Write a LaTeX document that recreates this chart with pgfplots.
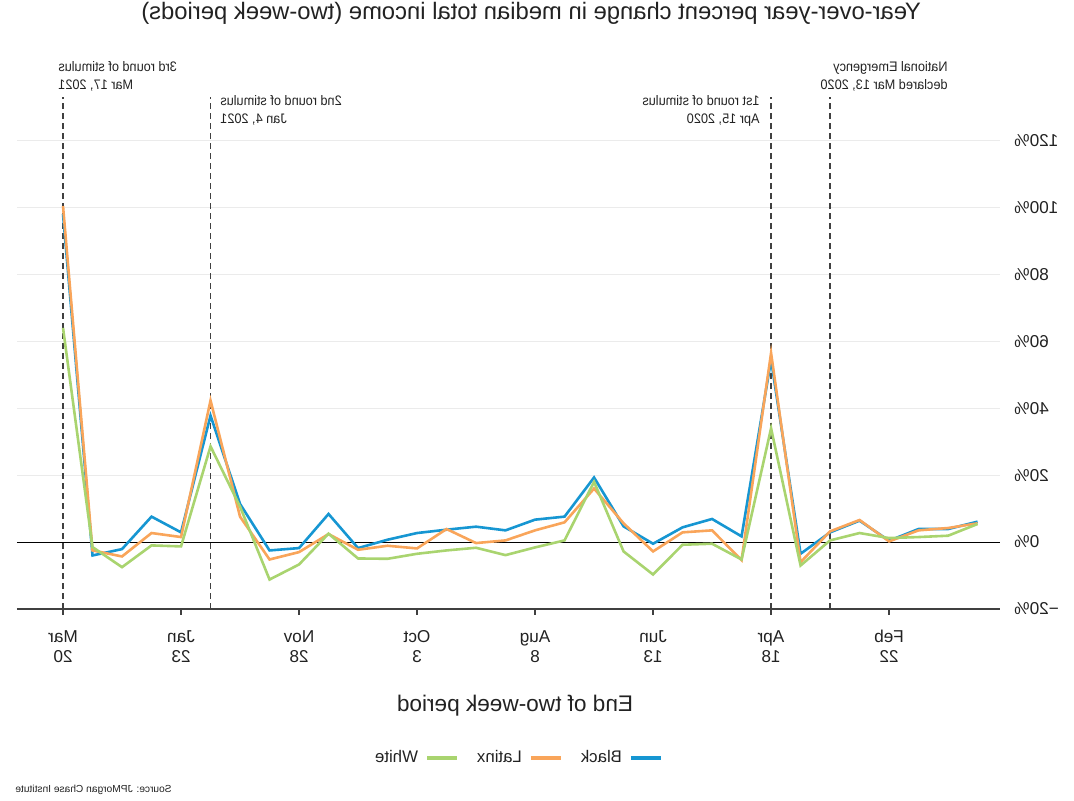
\documentclass[border=0pt]{standalone}
\usepackage{graphicx}
\usepackage{pgfplots}
\pgfplotsset{compat=1.18}
\usepackage{fontspec}
\setmainfont{Liberation Sans}
\definecolor{cblack}{HTML}{1696D2}
\definecolor{clatinx}{HTML}{F9A55A}
\definecolor{cwhite}{HTML}{A9D46F}
\definecolor{txt}{HTML}{222222}
\definecolor{gridc}{HTML}{EBEBEB}
\newcommand{\mir}[1]{\reflectbox{#1}}
\newcommand{\tl}[2]{\mir{\begin{tabular}{@{}c@{}}#1\\#2\end{tabular}}}

\pgfplotstableread{
k black latinx white
3 6.1 5.6 5.4
2 3.9 4.2 1.9
1 3.9 3.5 1.5
0 0.4 0.2 1.2
-1 6.4 6.6 2.7
-2 2.9 3.2 0.5
-3 -3.5 -6.0 -7.0
-4 54.5 56.5 34.0
-5 1.7 -5.4 -5.2
-6 6.9 3.5 -0.5
-7 4.4 2.9 -0.8
-8 -0.5 -2.8 -9.7
-9 4.7 5.6 -2.8
-10 19.3 16.0 18.0
-11 7.6 5.9 0.5
-12 6.7 3.5 -1.6
-13 3.5 0.5 -3.9
-14 4.6 -0.3 -1.7
-15 3.7 3.9 -2.5
-16 2.7 -1.9 -3.5
-17 0.7 -1.1 -5.0
-18 -1.8 -2.3 -4.9
-19 8.4 2.4 2.5
-20 -1.8 -3.0 -6.7
-21 -2.5 -5.2 -11.2
-22 11.4 7.6 10.6
-23 37.8 42.3 28.6
-24 2.9 1.5 -1.3
-25 7.6 2.7 -1.0
-26 -2.1 -4.3 -7.5
-27 -4.0 -2.5 -1.5
-28 98.0 100.4 64.0
}\datatable

\begin{document}
\begin{tikzpicture}
\begin{axis}[
  at={(0pt,0pt)}, anchor=south west,
  scale only axis, width=491.5pt, height=256pt,
  xmin=-29.56, xmax=3.76, ymin=-20, ymax=133,
  axis x line*=bottom, axis y line*=right,
  y axis line style={draw=none},
  x axis line style={draw=black!75, line width=0.6pt},
  xtick={-28,-24,-20,-16,-12,-8,-4,0},
  xticklabels={{\tl{Mar}{20}},{\tl{Jan}{23}},{\tl{Nov}{28}},{\tl{Oct}{3}},{\tl{Aug}{8}},{\tl{Jun}{13}},{\tl{Apr}{18}},{\tl{Feb}{22}}},
  xtick align=outside, xtick style={draw=black!75, line width=0.6pt},
  major tick length=3pt,
  xticklabel style={font=\fontsize{8.6}{10}\selectfont, text=txt, yshift=-3pt},
  ytick={-20,0,20,40,60,80,100,120},
  yticklabels={{\mir{−20\%}},{\mir{0\%}},{\mir{20\%}},{\mir{40\%}},{\mir{60\%}},{\mir{80\%}},{\mir{100\%}},{\mir{120\%}}},
  ytick style={draw=none},
  yticklabel style={anchor=west, inner sep=0pt, xshift=7pt, font=\fontsize{8.6}{10}\selectfont, text=txt},
  ymajorgrids, grid style={gridc, line width=0.5pt},
  legend style={at={(0.5087,-0.291)}, anchor=center, draw=none, fill=none,
    font=\fontsize{8.4}{10}\selectfont, text=txt,
    /tikz/every odd column/.append style={column sep=1.5pt},
    /tikz/every even column/.append style={column sep=7pt}},
  legend columns=3, reverse legend, legend plot pos=right,
  legend image code/.code={\draw[#1, line width=2pt] (0pt,0pt) -- (15pt,0pt);},
]
\draw[black, line width=0.55pt] (axis cs:-29.56,0) -- (axis cs:3.76,0);
\draw[black!75, line width=0.6pt, dash pattern=on 3pt off 2pt] (axis cs:-28,-20) -- (axis cs:-28,133);
\draw[black!75, line width=0.6pt, dash pattern=on 3pt off 2pt] (axis cs:-23,-20) -- (axis cs:-23,133);
\draw[black!75, line width=0.6pt, dash pattern=on 3pt off 2pt] (axis cs:-4,-20) -- (axis cs:-4,133);
\draw[black!75, line width=0.6pt, dash pattern=on 3pt off 2pt] (axis cs:-2,-20) -- (axis cs:-2,133);
\addplot[cblack, line width=1.3pt] table[x=k, y=black] {\datatable};
\addlegendentry{\mir{Black}}
\addplot[clatinx, line width=1.3pt] table[x=k, y=latinx] {\datatable};
\addlegendentry{\mir{Latinx}}
\addplot[cwhite, line width=1.3pt] table[x=k, y=white] {\datatable};
\addlegendentry{\mir{White}}
\end{axis}
\path[use as bounding box] (-8.5pt,-96pt) rectangle (528.5pt,304.5pt);
\node[text=txt, font=\fontsize{11.9}{14}\selectfont] at (257pt,298pt) {\mir{Year-over-year percent change in median total income (two-week periods)}};
\node[text=txt, font=\fontsize{11.3}{13.5}\selectfont] at (249pt,-48.5pt) {\mir{End of two-week period}};
\node[text=txt, font=\fontsize{6.9}{8.6}\selectfont, anchor=west, inner sep=0pt] at (20.5pt,266pt) {\scalebox{-0.92}[1]{\begin{tabular}{@{}r@{}}3rd round of stimulus\\Mar 17, 2021\end{tabular}}};
\node[text=txt, font=\fontsize{6.9}{8.6}\selectfont, anchor=west, inner sep=0pt] at (101.5pt,249pt) {\scalebox{-0.92}[1]{\begin{tabular}{@{}r@{}}2nd round of stimulus\\Jan 4, 2021\end{tabular}}};
\node[text=txt, font=\fontsize{6.9}{8.6}\selectfont, anchor=east, inner sep=0pt] at (371.5pt,249pt) {\scalebox{-0.92}[1]{\begin{tabular}{@{}l@{}}1st round of stimulus\\Apr 15, 2020\end{tabular}}};
\node[text=txt, font=\fontsize{6.9}{8.6}\selectfont, anchor=east, inner sep=0pt] at (465.5pt,266pt) {\scalebox{-0.92}[1]{\begin{tabular}{@{}l@{}}National Emergency\\declared Mar 13, 2020\end{tabular}}};
\node[text=txt, font=\fontsize{5.1}{6}\selectfont, anchor=west, inner sep=0pt] at (-1pt,-90.5pt) {\mir{Source: JPMorgan Chase Institute}};
\end{tikzpicture}
\end{document}
